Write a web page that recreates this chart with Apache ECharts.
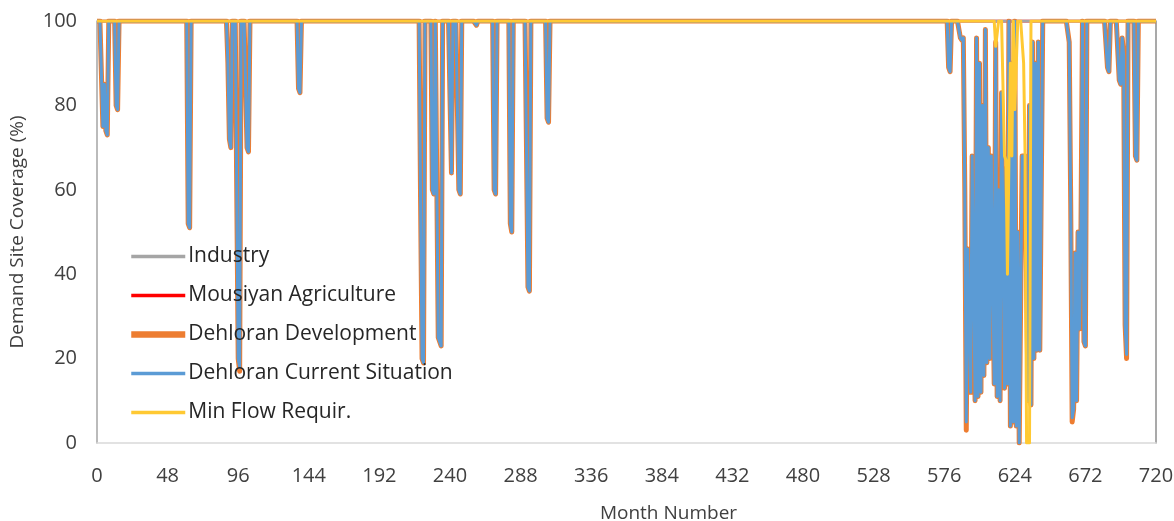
<!DOCTYPE html>
<html>
<head>
<meta charset="utf-8">
<script src="https://cdn.jsdelivr.net/npm/echarts@6/dist/echarts.min.js"></script>
<style>
  html, body { margin: 0; padding: 0; background: #fff; }
  #main { width: 1174px; height: 521px; }
</style>
</head>
<body>
<div id="main"></div>
<script>
// months 0..720, every month not listed below sits at 100 %
const lastMonth = 720;
const seriesNames = ['Industry', 'Mousiyan Agriculture', 'Dehloran Development', 'Dehloran Current Situation', 'Min Flow Requir.'];
const colors = ['#A5A5A5', '#FF0000', '#ED7D31', '#5B9BD5', '#FFC933'];
const xTicks = [0, 48, 96, 144, 192, 240, 288, 336, 384, 432, 480, 528, 576, 624, 672, 720];
const yTicks = [0, 20, 40, 60, 80, 100];

// [month, coverage %] for months below full coverage - Dehloran Current Situation
const currentDips = [
  [4, 75], [5, 85], [6, 74], [7, 73], [13, 80], [14, 79],
  [62, 52], [63, 51],
  [89, 90], [90, 72], [91, 70], [96, 20], [97, 18], [102, 70], [103, 69],
  [137, 84], [138, 83],
  [220, 57], [221, 20], [222, 19], [228, 60], [229, 59], [232, 25], [233, 24], [234, 23],
  [241, 64], [246, 60], [247, 59], [258, 99],
  [270, 60], [271, 59], [281, 52], [282, 50], [292, 70], [293, 37], [294, 36], [306, 77], [307, 76],
  [579, 89], [580, 88],
  [587, 96], [588, 95.5], [589, 96], [590, 60], [591, 5], [592, 46], [593, 46], [594, 12],
  [595, 68], [596, 68], [597, 10], [598, 96], [599, 11], [600, 90], [601, 12], [602, 80],
  [603, 16], [604, 98], [605, 19], [606, 70], [607, 20], [608, 68], [609, 68], [610, 14],
  [611, 95], [612, 11], [613, 60], [614, 10], [615, 83], [616, 83], [617, 13], [618, 65],
  [619, 14], [620, 100], [621, 4], [622, 90], [623, 5], [624, 100], [625, 4], [626, 50],
  [627, 0], [628, 0], [629, 68], [630, 68], [631, 68], [632, 68], [633, 10], [634, 80],
  [635, 9], [636, 95], [637, 20], [638, 90], [639, 22], [640, 95], [641, 22], [642, 22],
  [661, 95], [662, 57], [663, 6], [664, 8], [665, 45], [666, 10], [667, 50], [668, 27], [669, 51],
  [671, 24], [672, 23],
  [687, 89], [688, 88], [695, 86], [696, 85], [697, 96], [698, 92], [699, 28], [700, 21],
  [706, 68], [707, 67]
];
// Dehloran Development follows the current situation except these months
const developmentDiffs = [[591, 3], [97, 17], [663, 5], [700, 20]];
// Min Flow Requirement
const minFlowDips = [
  [611, 94], [612, 94], [617, 68], [618, 67], [619, 40], [620, 67], [621, 90], [622, 68],
  [624, 79], [625, 79], [630, 90], [631, 68], [632, 0], [633, 0], [634, 0]
];
const industryDips = [];
const mousiyanDips = [];

function toSeries(dipLists) {
  const values = [];
  for (let m = 0; m <= lastMonth; m++) values.push(100);
  dipLists.forEach(list => list.forEach(([m, v]) => { values[m] = v; }));
  return values.map((v, m) => [m, v]);
}

const seriesData = [
  toSeries([industryDips]),
  toSeries([mousiyanDips]),
  toSeries([currentDips, developmentDiffs]),
  toSeries([currentDips]),
  toSeries([minFlowDips])
];
const lineWidths = [3, 3, 5, 3, 3];
const legendWidths = [3.5, 3.5, 6.5, 3.5, 3.5];
const zLevels = [3, 2, 3, 3, 3];

const font = 'Open Sans';
const myChart = echarts.init(document.getElementById('main'), null, {renderer: 'canvas'});
myChart.setOption({
  animation: false,
  color: colors,
  grid: {left: 97, right: 18, top: 21, bottom: 78, outerBoundsMode: 'none'},
  legend: {
    orient: 'vertical',
    left: 128,
    top: 246,
    padding: 0,
    itemWidth: 54,
    itemHeight: 20,
    itemGap: 18,
    itemStyle: {opacity: 0},
    textStyle: {fontFamily: font, fontSize: 21, color: '#262626', padding: [0, 0, 0, -2]},
    data: seriesNames.map((name, i) => ({name: name, lineStyle: {width: legendWidths[i], color: colors[i]}}))
  },
  xAxis: {
    type: 'value',
    min: xTicks[0],
    max: xTicks[xTicks.length - 1],
    interval: 48,
    name: 'Month Number',
    nameLocation: 'middle',
    nameGap: 61,
    nameTextStyle: {fontFamily: font, fontSize: 19, color: '#404040', padding: [0, 0, 0, 84]},
    axisLine: {lineStyle: {color: '#D9D9D9', width: 1.5}},
    axisTick: {show: false},
    splitLine: {show: false},
    axisLabel: {fontFamily: font, fontSize: 20, color: '#404040', margin: 23}
  },
  yAxis: [{
    type: 'value',
    min: yTicks[0],
    max: yTicks[yTicks.length - 1],
    interval: 20,
    name: 'Demand Site Coverage (%)',
    nameLocation: 'middle',
    nameGap: 70,
    nameTextStyle: {fontFamily: font, fontSize: 19, color: '#404040'},
    axisLine: {show: true, lineStyle: {color: '#A5A5A5', width: 1.5}},
    axisTick: {show: false},
    splitLine: {show: false},
    axisLabel: {fontFamily: font, fontSize: 20, color: '#404040', margin: 20}
  }, {
    type: 'value',
    position: 'right',
    min: yTicks[0],
    max: yTicks[yTicks.length - 1],
    interval: 20,
    axisLine: {show: true, lineStyle: {color: '#8C8C8C', width: 1.5}},
    axisTick: {show: false},
    axisLabel: {show: false},
    splitLine: {show: false}
  }],
  series: seriesNames.map((name, i) => ({
    name: name,
    type: 'line',
    symbol: 'none',
    z: zLevels[i],
    data: seriesData[i],
    lineStyle: {width: lineWidths[i], color: colors[i], join: 'round'},
    itemStyle: {color: colors[i]}
  }))
});
</script>
</body>
</html>
